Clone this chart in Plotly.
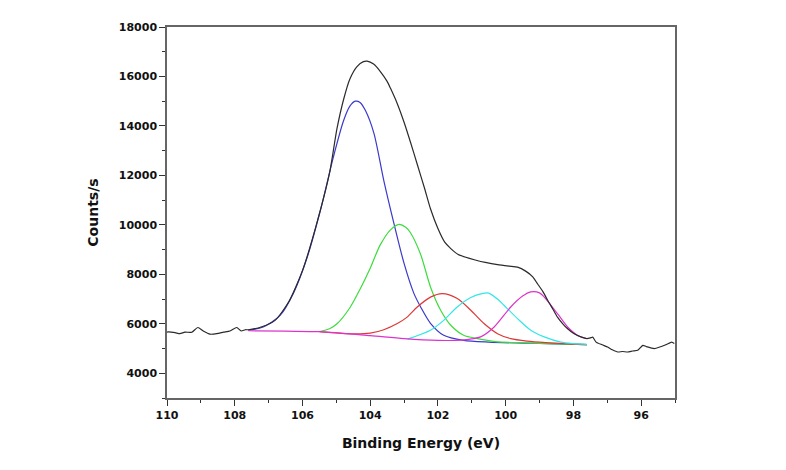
import plotly.graph_objects as go

# Raw spectrum (black)
raw_e = [110.0, 109.96, 109.76, 109.62, 109.47, 109.27, 109.09, 108.93, 108.73, 108.53, 108.33,
         108.14, 107.94, 107.81, 107.69, 107.6, 107.2, 106.8, 106.4, 106.0, 105.6, 105.2,
         104.98, 104.78, 104.6, 104.39, 104.2, 104.09, 103.9, 103.7, 103.5, 103.4, 103.2,
         103.0, 102.81, 102.6, 102.4, 102.22, 102.0, 101.8, 101.62, 101.4, 101.2, 100.9,
         100.6, 100.24, 99.9, 99.65, 99.4, 99.2, 99.06, 98.9, 98.76, 98.6, 98.47, 98.3,
         98.17, 98.0, 97.78, 97.6, 97.48, 97.43, 97.33, 97.15, 96.99, 96.85, 96.69, 96.55,
         96.4, 96.25, 96.1, 95.95, 95.85, 95.61, 95.45, 95.31, 95.15, 95.1, 95.02]
raw_v = [5660, 5670, 5640, 5600, 5660, 5660, 5850, 5710, 5580, 5600, 5660,
         5710, 5850, 5710, 5760, 5760, 5880, 6150, 6900, 8150, 9950, 12100,
         13900, 15100, 15900, 16400, 16600, 16620, 16500, 16200, 15800, 15520, 14900,
         14150, 13340, 12400, 11500, 10650, 9850, 9300, 9040, 8800, 8700, 8580,
         8480, 8390, 8330, 8290, 8120, 7900, 7620, 7300, 6950, 6580, 6270, 5980,
         5800, 5620, 5470, 5400, 5440, 5460, 5260, 5150, 5060, 4950, 4860, 4880,
         4860, 4900, 4930, 5130, 5080, 5000, 5060, 5130, 5230, 5260, 5200]

# Fitted components
blue_e = [107.6, 107.16, 106.66, 106.27, 105.86, 105.47, 105.09, 104.79, 104.6, 104.44,
          104.3, 104.14, 103.89, 103.6, 103.3, 103.0, 102.71, 102.51, 102.22, 101.83,
          101.24, 100.5, 99.5, 98.5, 97.6]
blue_v = [5740, 5870, 6340, 7230, 8690, 10590, 12730, 14200, 14800, 15000,
          14950, 14620, 13700, 11800, 10060, 8440, 7230, 6680, 6020, 5535,
          5330, 5260, 5220, 5190, 5160]

green_e = [105.5, 105.2, 104.98, 104.6, 104.3, 104.0, 103.7, 103.4, 103.15, 102.95,
           102.81, 102.51, 102.22, 101.92, 101.62, 101.24, 100.83, 100.3, 99.5, 98.5, 97.6]
green_v = [5690, 5800, 6000, 6650, 7400, 8250, 9200, 9800, 10020, 9900,
           9680, 8800, 7490, 6550, 5940, 5535, 5400, 5280, 5230, 5190, 5160]

red_e = [105.5, 104.5, 104.0, 103.6, 103.2, 102.91, 102.61, 102.22, 101.87, 101.43,
         101.03, 100.64, 100.24, 99.85, 99.36, 98.8, 98.0, 97.6]
red_v = [5680, 5590, 5620, 5760, 6010, 6270, 6680, 7080, 7220, 7020,
         6550, 6010, 5600, 5400, 5300, 5240, 5180, 5160]

cyan_e = [102.9, 102.22, 101.83, 101.43, 101.03, 100.7, 100.5, 100.2, 100.05, 99.65,
          99.26, 98.86, 98.37, 98.0, 97.6]
cyan_v = [5380, 5740, 6140, 6680, 7060, 7220, 7240, 6950, 6750, 6210,
          5740, 5470, 5260, 5200, 5170]

mag_e = [107.6, 106.5, 105.5, 104.0, 103.0, 102.0, 101.3, 101.0, 100.74, 100.34,
         99.85, 99.5, 99.26, 99.0, 98.86, 98.47, 98.17, 97.88, 97.63]
mag_v = [5720, 5700, 5680, 5520, 5400, 5330, 5340, 5390, 5470, 5870,
         6680, 7120, 7290, 7250, 7080, 6410, 5870, 5535, 5410]

x_ticks = [110, 108, 106, 104, 102, 100, 98, 96]
y_ticks = [4000, 6000, 8000, 10000, 12000, 14000, 16000, 18000]

fig = go.Figure()

components = [
    (blue_e, blue_v, "#3a3acc"),
    (green_e, green_v, "#3ddc3d"),
    (red_e, red_v, "#dd3838"),
    (cyan_e, cyan_v, "#33e6e6"),
    (mag_e, mag_v, "#dd33cc"),
]
for e, v, c in components:
    fig.add_trace(go.Scatter(x=e, y=v, mode="lines",
                             line=dict(color=c, width=1.2, shape="spline", smoothing=0.8),
                             showlegend=False, hoverinfo="skip"))

fig.add_trace(go.Scatter(x=raw_e, y=raw_v, mode="lines",
                         line=dict(color="#2a2a2a", width=1.2, shape="spline", smoothing=0.6),
                         showlegend=False))

tick_font = dict(family="DejaVu Sans", size=11, color="#111111", weight="bold")
title_font = dict(family="DejaVu Sans", size=14, color="#111111", weight="bold")

fig.update_layout(
    width=786, height=470,
    margin=dict(l=167, r=111, t=27, b=72),
    paper_bgcolor="white", plot_bgcolor="white",
    xaxis=dict(range=[110, 95], tickmode="array", tickvals=x_ticks,
               ticktext=[str(t) for t in x_ticks],
               ticks="outside", ticklen=6, tickwidth=1.2, tickcolor="#333333",
               minor=dict(dtick=1, ticks="outside", ticklen=3, tickcolor="#333333", tickwidth=1),
               showline=True, linecolor="#666666", linewidth=1.5, mirror=True,
               showgrid=False, zeroline=False, tickfont=tick_font,
               title=dict(text="Binding Energy (eV)", font=title_font, standoff=17)),
    yaxis=dict(range=[3000, 18000], tickmode="array", tickvals=y_ticks,
               ticktext=[str(t) for t in y_ticks],
               ticks="outside", ticklen=6, tickwidth=1.2, tickcolor="#333333",
               minor=dict(dtick=1000, tick0=3000, ticks="outside", ticklen=3, tickcolor="#333333", tickwidth=1),
               showline=True, linecolor="#666666", linewidth=1.5, mirror=True,
               showgrid=False, zeroline=False, tickfont=tick_font,
               title=dict(text="Counts/s", font=title_font, standoff=17)),
)

fig.write_html("out.html", config={"displayModeBar": False},
               post_script="document.body.style.margin='0';")
